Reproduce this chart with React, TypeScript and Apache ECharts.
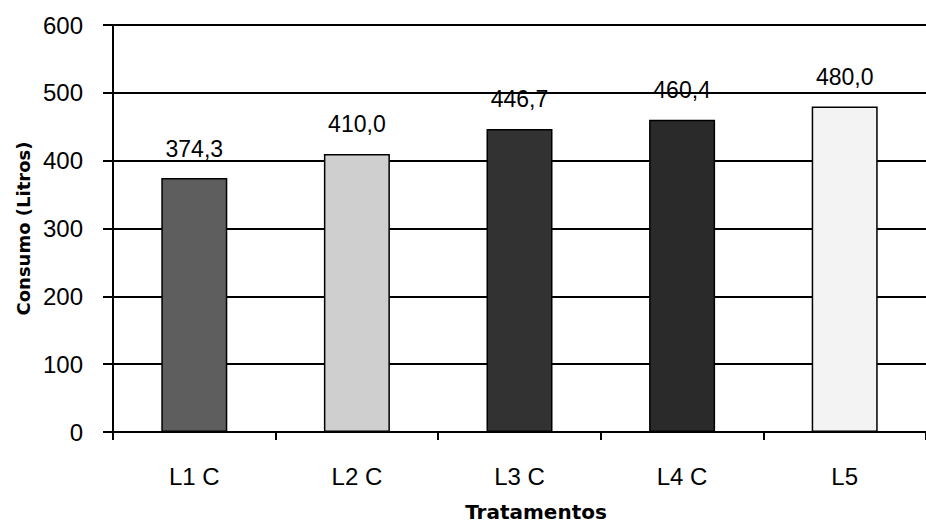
import React, { useEffect, useRef } from "react";
import * as echarts from "echarts";

const categories = ["L1 C", "L2 C", "L3 C", "L4 C", "L5"];
const consumo = [374.3, 410.0, 446.7, 460.4, 480.0];
const yTicks = { min: 0, max: 600, interval: 100 };
const BAR_COLORS = ["#5e5e5e", "#cfcfcf", "#323232", "#2a2a2a", "#f3f3f3"];

export default function App() {
  const ref = useRef<HTMLDivElement>(null);
  useEffect(() => {
    if (!ref.current) return;
    const chart = echarts.init(ref.current, null, { renderer: "svg" });
    chart.setOption({
      animation: false,
      backgroundColor: "#ffffff",
      grid: { left: 113, top: 25, width: 825, height: 407 },
      xAxis: {
        type: "category",
        data: categories,
        boundaryGap: true,
        axisLine: { lineStyle: { color: "#000", width: 2 } },
        axisTick: { show: true, alignWithLabel: false, length: 8, lineStyle: { color: "#000", width: 2 } },
        axisLabel: { color: "#000", fontFamily: "Liberation Sans, Arial", fontSize: 24, margin: 32 },
      },
      yAxis: {
        type: "value",
        min: yTicks.min,
        max: yTicks.max,
        interval: yTicks.interval,
        name: "Consumo (Litros)",
        nameLocation: "middle",
        nameGap: 81,
        nameTextStyle: { color: "#000", fontFamily: "DejaVu Sans", fontWeight: "bold", fontSize: 18 },
        axisLine: { show: true, lineStyle: { color: "#000", width: 2 } },
        axisTick: { show: true, inside: false, length: 10, lineStyle: { color: "#000", width: 2 } },
        axisLabel: { color: "#000", fontFamily: "Liberation Sans, Arial", fontSize: 24, margin: 30 },
        splitLine: { show: true, lineStyle: { color: "#000", width: 2 } },
      },
      graphic: [
        {
          type: "text",
          x: 536,
          y: 512,
          style: {
            text: "Tratamentos",
            textAlign: "center",
            textVerticalAlign: "middle",
            fill: "#000",
            font: "bold 20px 'DejaVu Sans'",
          },
        },
      ],
      series: [
        {
          type: "bar",
          barWidth: 66,
          data: consumo.map((v, i) => ({
            value: v,
            itemStyle: { color: BAR_COLORS[i], borderColor: "#000", borderWidth: 1.5 },
          })),
          label: {
            show: true,
            position: "top",
            distance: 18,
            color: "#000",
            fontFamily: "Liberation Sans, Arial",
            fontSize: 23,
            formatter: (p: any) => Number(p.value).toFixed(1).replace(".", ","),
          },
        },
      ],
    });
    return () => chart.dispose();
  }, []);
  return (
    <div
      ref={ref}
      style={{ position: "fixed", left: 0, top: 0, width: 926, height: 526, background: "#fff" }}
    />
  );
}
